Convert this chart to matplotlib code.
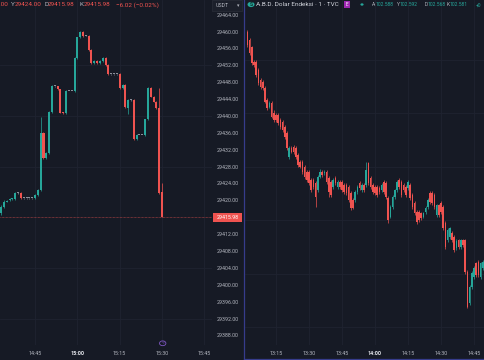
import matplotlib
matplotlib.use("Agg")
import matplotlib.pyplot as plt
import matplotlib.transforms as mtransforms
import numpy as np
from matplotlib.patches import Rectangle, Circle
from matplotlib.lines import Line2D

plt.rcParams["font.family"] = ["Roboto", "DejaVu Sans"]

W, H = 485, 360
BG = "#161a25"
GRID = "#1f2330"
UP = "#26a69a"
DOWN = "#ef5350"
FLAT = "#8a8e99"
TEXT = "#b2b5be"
BORDER = "#363c8c"

# ---- left pane: BTC/USDT 1m ----
left_start = "14:33"
left_open = [29416.9, 29418.5, 29419.7, 29420.0, 29420.3, 29420.4, 29421.8, 29421.8,
             29420.5, 29420.5, 29420.5, 29420.5, 29420.5, 29421.3, 29422.5, 29435.9,
             29430.0, 29431.2, 29441.0, 29447.0, 29447.0, 29446.3, 29440.8, 29440.6,
             29445.9, 29445.9, 29445.9, 29453.7, 29458.6, 29460.0, 29459.0, 29459.0,
             29455.6, 29452.5, 29453.1, 29452.6, 29453.0, 29453.7, 29452.1, 29449.9,
             29449.9, 29449.9, 29449.9, 29446.6, 29447.3, 29441.8, 29443.8, 29443.8,
             29434.5, 29435.5, 29435.5, 29435.5, 29439.2, 29446.6, 29444.6, 29443.4,
             29441.8, 29422.0]
left_high = [29418.8, 29420.0, 29420.2, 29420.5, 29420.6, 29422.0, 29422.0, 29422.0,
             29420.6, 29420.6, 29420.6, 29420.6, 29421.5, 29422.7, 29439.8, 29436.1,
             29431.4, 29441.2, 29447.3, 29447.2, 29447.2, 29446.5, 29441.0, 29446.1,
             29446.0, 29446.0, 29453.9, 29458.8, 29460.2, 29460.2, 29459.1, 29459.2,
             29455.8, 29453.3, 29453.3, 29453.2, 29453.9, 29453.9, 29452.3, 29450.0,
             29450.0, 29450.0, 29450.1, 29447.5, 29447.5, 29444.0, 29444.0, 29444.0,
             29435.7, 29435.6, 29435.6, 29439.4, 29446.8, 29446.8, 29444.8, 29443.6,
             29446.6, 29424.0]
left_low = [29416.5, 29418.2, 29419.5, 29419.8, 29420.1, 29420.2, 29421.6, 29420.3,
            29420.4, 29420.4, 29420.4, 29420.4, 29420.4, 29421.1, 29422.3, 29429.8,
            29429.8, 29431.0, 29440.8, 29446.8, 29446.1, 29440.6, 29440.4, 29440.4,
            29445.8, 29445.8, 29445.7, 29453.5, 29458.4, 29458.8, 29458.9, 29455.4,
            29452.3, 29452.3, 29452.4, 29452.4, 29452.8, 29451.9, 29449.7, 29449.8,
            29449.8, 29449.8, 29446.4, 29446.4, 29441.9, 29440.4, 29443.6, 29434.3,
            29434.3, 29435.4, 29435.4, 29435.3, 29439.0, 29444.4, 29443.2, 29441.6,
            29421.6, 29415.98]
left_close = [29418.5, 29419.7, 29419.9, 29420.3, 29420.4, 29421.8, 29421.8, 29420.5,
              29420.5, 29420.5, 29420.5, 29420.5, 29421.3, 29422.5, 29435.9, 29430.0,
              29431.2, 29441.0, 29447.0, 29447.0, 29446.3, 29440.8, 29440.6, 29445.9,
              29445.9, 29445.9, 29453.7, 29458.6, 29460.0, 29459.0, 29459.0, 29455.6,
              29452.5, 29453.1, 29452.6, 29453.0, 29453.7, 29452.1, 29449.9, 29449.9,
              29449.9, 29449.9, 29446.6, 29447.3, 29442.1, 29443.8, 29443.8, 29434.5,
              29435.5, 29435.5, 29435.5, 29439.2, 29446.6, 29444.6, 29443.4, 29441.8,
              29421.8, 29415.98]
left_price_ticks = [29464, 29460, 29456, 29452, 29448, 29444, 29440, 29436, 29432,
                    29428, 29424, 29420, 29412, 29408, 29404, 29400, 29396, 29392, 29388]
left_grid_prices = [29452, 29440, 29428, 29404, 29392]
left_time_labels = ["14:45", "15:00", "15:15", "15:30", "15:45"]
left_legend = [("A", "29422.00"), ("Y", "29424.00"), ("D", "29415.98"), ("K", "29415.98")]
left_change = "\u22126.02 (\u22120.02%)"

# ---- right pane: DXY 1m ----
right_start = "13:02"
right_open = [102.6704, 102.6673, 102.6647, 102.6592, 102.6591, 102.6561, 102.6524, 102.6517,
              102.6494, 102.6449, 102.6424, 102.6438, 102.6400, 102.6393, 102.6393, 102.6374,
              102.6368, 102.6349, 102.6326, 102.6237, 102.6270, 102.6274, 102.6270, 102.6243,
              102.6218, 102.6218, 102.6200, 102.6181, 102.6181, 102.6150, 102.6150, 102.6139,
              102.6112, 102.6162, 102.6181, 102.6176, 102.6181, 102.6157, 102.6143, 102.6125,
              102.6157, 102.6125, 102.6143, 102.6143, 102.6131, 102.6131, 102.6125, 102.6101,
              102.6075, 102.6075, 102.6106, 102.6139, 102.6112, 102.6131, 102.6131, 102.6213,
              102.6157, 102.6131, 102.6125, 102.6125, 102.6120, 102.6112, 102.6143, 102.6139,
              102.6083, 102.6013, 102.6050, 102.6087, 102.6112, 102.6150, 102.6143, 102.6131,
              102.6125, 102.6120, 102.6131, 102.6094, 102.6064, 102.6031, 102.6031, 102.6026,
              102.6013, 102.6031, 102.6050, 102.6101, 102.6101, 102.6094, 102.6019, 102.6056,
              102.6064, 102.6050, 102.5989, 102.5925, 102.5938, 102.5952, 102.5938, 102.5896,
              102.5925, 102.5900, 102.5925, 102.5925, 102.5807, 102.5690, 102.5751, 102.5788,
              102.5839, 102.5844, 102.5788, 102.5821]
right_high = [102.6712, 102.6680, 102.6652, 102.6600, 102.6598, 102.6568, 102.6531, 102.6524,
              102.6500, 102.6455, 102.6446, 102.6445, 102.6410, 102.6400, 102.6399, 102.6380,
              102.6376, 102.6355, 102.6332, 102.6276, 102.6278, 102.6281, 102.6276, 102.6250,
              102.6225, 102.6224, 102.6206, 102.6188, 102.6187, 102.6157, 102.6156, 102.6145,
              102.6168, 102.6190, 102.6187, 102.6188, 102.6188, 102.6164, 102.6150, 102.6157,
              102.6164, 102.6150, 102.6150, 102.6150, 102.6138, 102.6138, 102.6131, 102.6108,
              102.6082, 102.6112, 102.6131, 102.6145, 102.6138, 102.6138, 102.6218, 102.6218,
              102.6164, 102.6138, 102.6131, 102.6131, 102.6127, 102.6138, 102.6150, 102.6145,
              102.6090, 102.6056, 102.6094, 102.6118, 102.6150, 102.6157, 102.6150, 102.6138,
              102.6131, 102.6150, 102.6138, 102.6101, 102.6070, 102.6038, 102.6038, 102.6032,
              102.6032, 102.6051, 102.6082, 102.6108, 102.6108, 102.6101, 102.6062, 102.6062,
              102.6070, 102.6056, 102.5995, 102.5970, 102.5976, 102.5958, 102.5945, 102.5928,
              102.5931, 102.5931, 102.5931, 102.5931, 102.5813, 102.5757, 102.5808, 102.5827,
              102.5845, 102.5850, 102.5845, 102.5850]
right_low = [102.6648, 102.6618, 102.6580, 102.6572, 102.6536, 102.6506, 102.6490, 102.6488,
             102.6436, 102.6410, 102.6418, 102.6380, 102.6368, 102.6366, 102.6356, 102.6342,
             102.6330, 102.6305, 102.6262, 102.6228, 102.6250, 102.6248, 102.6230, 102.6198,
             102.6193, 102.6174, 102.6155, 102.6143, 102.6131, 102.6105, 102.6118, 102.6050,
             102.6105, 102.6156, 102.6162, 102.6170, 102.6136, 102.6087, 102.6087, 102.6118,
             102.6131, 102.6118, 102.6118, 102.6105, 102.6099, 102.6093, 102.6068, 102.6038,
             102.6040, 102.6068, 102.6099, 102.6112, 102.6105, 102.6105, 102.6124, 102.6131,
             102.6118, 102.6099, 102.6093, 102.6087, 102.6099, 102.6105, 102.6099, 102.6080,
             102.5989, 102.6006, 102.6043, 102.6080, 102.6105, 102.6118, 102.6087, 102.6105,
             102.6087, 102.6112, 102.6075, 102.6043, 102.6019, 102.5987, 102.5993, 102.6000,
             102.6006, 102.6024, 102.6043, 102.6062, 102.6057, 102.6043, 102.6012, 102.6012,
             102.6024, 102.5963, 102.5893, 102.5918, 102.5931, 102.5918, 102.5880, 102.5889,
             102.5893, 102.5893, 102.5900, 102.5800, 102.5671, 102.5683, 102.5744, 102.5781,
             102.5788, 102.5788, 102.5781, 102.5814]
right_close = [102.6655, 102.6625, 102.6587, 102.6580, 102.6543, 102.6513, 102.6499, 102.6494,
               102.6443, 102.6419, 102.6438, 102.6387, 102.6374, 102.6374, 102.6363, 102.6349,
               102.6337, 102.6312, 102.6270, 102.6270, 102.6256, 102.6256, 102.6237, 102.6206,
               102.6200, 102.6181, 102.6162, 102.6150, 102.6139, 102.6112, 102.6125, 102.6087,
               102.6162, 102.6181, 102.6169, 102.6181, 102.6143, 102.6106, 102.6094, 102.6150,
               102.6139, 102.6143, 102.6125, 102.6112, 102.6106, 102.6101, 102.6075, 102.6045,
               102.6045, 102.6106, 102.6125, 102.6120, 102.6131, 102.6112, 102.6187, 102.6139,
               102.6125, 102.6106, 102.6101, 102.6094, 102.6106, 102.6131, 102.6106, 102.6087,
               102.6000, 102.6050, 102.6087, 102.6112, 102.6143, 102.6125, 102.6094, 102.6112,
               102.6094, 102.6143, 102.6083, 102.6050, 102.6026, 102.5994, 102.6000, 102.6008,
               102.6026, 102.6045, 102.6075, 102.6069, 102.6064, 102.6050, 102.6056, 102.6019,
               102.6031, 102.5970, 102.5900, 102.5963, 102.5970, 102.5925, 102.5888, 102.5922,
               102.5900, 102.5925, 102.5907, 102.5807, 102.5676, 102.5751, 102.5802, 102.5821,
               102.5795, 102.5795, 102.5839, 102.5844]
right_grid_prices = [102.56, 102.58, 102.60, 102.62, 102.64, 102.66]
right_time_labels = ["13:15", "13:30", "13:45", "14:00", "14:15", "14:30", "14:45"]
right_title = "A.B.D. Dolar Endeksi \u00b7 1 \u00b7 TVC"
right_legend = [("A", "102.588"), ("Y", "102.592"), ("D", "102.568"), ("K", "102.581"), ("", "+0")]


def minutes(label):
    h, m = label.split(":")
    return int(h) * 60 + int(m)


def draw_candles(ax, o, h, l, c, one_px):
    o, h, l, c = map(np.asarray, (o, h, l, c))
    x = np.arange(len(o))
    colors = np.where(c > o, UP, np.where(c < o, DOWN, FLAT))
    ax.vlines(x, l, h, colors=colors, linewidth=0.5, zorder=3)
    bottom = np.minimum(o, c)
    height = np.maximum(np.abs(c - o), one_px)
    ax.bar(x, height, width=0.72, bottom=bottom, color=colors, linewidth=0, zorder=4)


def style_time_axis(ax, start, labels):
    ticks = [minutes(t) - minutes(start) for t in labels]
    ax.set_xticks(ticks)
    ax.set_xticklabels(labels)
    ax.tick_params(axis="x", length=0, pad=4.6, labelsize=3.9, labelcolor=TEXT)
    for lbl in ax.get_xticklabels():
        if lbl.get_text().endswith(":00"):
            lbl.set_fontweight("bold")
            lbl.set_color("#e6e8ee")
    ax.grid(axis="x", color=GRID, linewidth=0.6)


fig = plt.figure(figsize=(W / 100, H / 100), dpi=100, facecolor=BG)

# left pane
axl = fig.add_axes([0, 15 / H, 212 / W, 345 / H], facecolor=BG)
axl.set_xlim(-0.41, 74.7)
axl.set_ylim(29385.73, 29467.48)
draw_candles(axl, left_open, left_high, left_low, left_close, 0.237)
for p in left_grid_prices:
    axl.axhline(p, color=GRID, linewidth=0.6, zorder=1)
axl.yaxis.tick_right()
axl.set_yticks(left_price_ticks)
axl.set_yticklabels([f"{p:.2f}" for p in left_price_ticks])
axl.tick_params(axis="y", length=0, pad=3.3, labelsize=3.8, labelcolor=TEXT)
style_time_axis(axl, left_start, left_time_labels)
axl.set_axisbelow(True)
for s in axl.spines.values():
    s.set_visible(False)

last = left_close[-1]
axl.axhline(last, color=DOWN, linewidth=0.5, linestyle=(0, (1, 1)), alpha=0.8, zorder=2)
blend = mtransforms.blended_transform_factory(fig.transFigure, axl.transData)
axl.add_patch(Rectangle((213 / W, last - 1.0), 29 / W, 2.0, transform=blend,
                        facecolor=DOWN, edgecolor="none", clip_on=False, zorder=10))
axl.text(227.5 / W, last, f"{last:.2f}", transform=blend, ha="center", va="center",
         fontsize=3.8, color="white", clip_on=False, zorder=11)

# right pane
axr = fig.add_axes([245 / W, 15 / H, 240 / W, 345 / H], facecolor=BG)
axr.set_xlim(-1.09, 108.0)
axr.set_ylim(102.5533, 102.6823)
draw_candles(axr, right_open, right_high, right_low, right_close, 0.000374)
for p in right_grid_prices:
    axr.axhline(p, color=GRID, linewidth=0.6, zorder=1)
axr.set_yticks([])
style_time_axis(axr, right_start, right_time_labels)
axr.set_axisbelow(True)
for s in axr.spines.values():
    s.set_visible(False)

# pane border of the active (right) pane
fig.add_artist(Line2D([244.5 / W, 244.5 / W], [0, 1], color=BORDER, linewidth=0.9))
fig.add_artist(Line2D([244.5 / W, 1], [0.6 / H, 0.6 / H], color=BORDER, linewidth=0.9))


def fy(py):
    return 1 - py / H


# left legend (scrolled off to the left)
fs_l = 4.6
fig.text(8.5 / W, fy(5), left_legend[0][1], color=DOWN, fontsize=fs_l, ha="right", va="center")
xs = [11, 44.5, 80]
for (k, v), x0 in zip(left_legend[1:], xs):
    fig.text(x0 / W, fy(5), k, color=TEXT, fontsize=fs_l, va="center")
    fig.text((x0 + 3.6) / W, fy(5), v, color=DOWN, fontsize=fs_l, va="center")
fig.text(116 / W, fy(5), left_change, color=DOWN, fontsize=fs_l, va="center")

# price scale currency box
fig.add_artist(Rectangle((212.5 / W, fy(11)), 30 / W, 10.5 / H, transform=fig.transFigure,
                         facecolor="#1c202b", edgecolor="#2a2e39", linewidth=0.5))
fig.text(215.5 / W, fy(5.5), "USDT", color=TEXT, fontsize=3.8, va="center")
fig.text(237 / W, fy(5.5), "\u25be", color=TEXT, fontsize=3.5, va="center",
         family=["DejaVu Sans"])

# right legend
fig.add_artist(Circle((251 / W, fy(4.5)), 3.5 / W, transform=fig.transFigure,
                      facecolor="#26a69a", edgecolor="none"))
fig.text(251 / W, fy(4.6), "S", color="#0d2a26", fontsize=3.6, ha="center", va="center",
         fontweight="bold")
fig.text(256.5 / W, fy(5), right_title, color="#d1d4dc", fontsize=4.6, va="center")
fig.add_artist(Rectangle((344 / W, fy(8)), 6 / W, 6.5 / H, transform=fig.transFigure,
                         facecolor="#9c27b0", edgecolor="none"))
fig.text(347 / W, fy(4.8), "E", color="white", fontsize=3.3, ha="center", va="center")
fig.add_artist(Circle((362 / W, fy(4.5)), 1.6 / W, transform=fig.transFigure,
                      facecolor="#26a69a", edgecolor="none"))
fs_r = 3.6
xs = [372, 396.5, 424.5, 446.5, 475.5]
for (k, v), x0 in zip(right_legend, xs):
    if k:
        fig.text(x0 / W, fy(5), k, color=TEXT, fontsize=fs_r, va="center")
        fig.text((x0 + 3.3) / W, fy(5), v, color="#26a69a", fontsize=fs_r, va="center")
    else:
        fig.text(x0 / W, fy(5), v, color="#26a69a", fontsize=fs_r, va="center")

# replay / alert marker on the left time axis
fig.add_artist(Circle((162.7 / W, fy(343.3)), 3.2 / W, transform=fig.transFigure,
                      facecolor=BG, edgecolor="#7e57c2", linewidth=0.6))
fig.text(162.7 / W, fy(343.3), "\u03df", color="#7e57c2", fontsize=3.2, ha="center",
         va="center", family=["DejaVu Sans"])

fig.savefig("out.png", dpi=100, facecolor=BG)
